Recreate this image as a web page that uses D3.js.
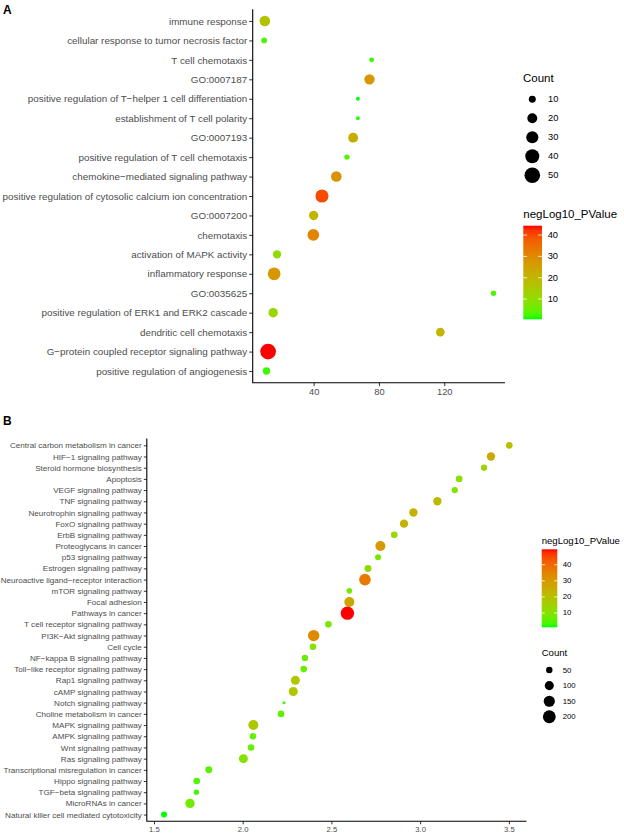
<!DOCTYPE html>
<html><head><meta charset="utf-8">
<script src="https://cdn.jsdelivr.net/npm/d3@7"></script>
<style>body{margin:0;background:#fff}text{font-family:"Liberation Sans",Arial,sans-serif}</style>
</head><body>
<script>
// ---------- Panel A data ----------
const termsA = ["immune response","cellular response to tumor necrosis factor","T cell chemotaxis","GO:0007187",
 "positive regulation of T\u2212helper 1 cell differentiation","establishment of T cell polarity","GO:0007193",
 "positive regulation of T cell chemotaxis","chemokine\u2212mediated signaling pathway",
 "positive regulation of cytosolic calcium ion concentration","GO:0007200","chemotaxis","activation of MAPK activity",
 "inflammatory response","GO:0035625","positive regulation of ERK1 and ERK2 cascade","dendritic cell chemotaxis",
 "G\u2212protein coupled receptor signaling pathway","positive regulation of angiogenesis"];
const xA     = [10.1, 9.7, 75.5, 74.2, 67.1, 67.1, 64.2, 60.4, 53.9, 45.1, 40.0, 39.8, 17.6, 15.8, 150.2, 15.2, 117.6, 12.1, 11.1];
const countA = [23, 7, 5, 22, 3, 3, 20, 6, 23, 35, 18, 28, 14, 33, 6, 18, 15, 50, 11];
const pA     = [17, 3, 2, 27, 0.5, 1, 22, 3, 28, 40, 20, 31, 10, 27, 3, 12, 20, 44.4, 2];
const ticksA = [40, 80, 120];
const countLegendA = [10, 20, 30, 40, 50];
const colorTicksA = [10, 20, 30, 40];

// ---------- Panel B data ----------
const termsB = ["Central carbon metabolism in cancer","HIF\u22121 signaling pathway","Steroid hormone biosynthesis","Apoptosis",
 "VEGF signaling pathway","TNF signaling pathway","Neurotrophin signaling pathway","FoxO signaling pathway","ErbB signaling pathway",
 "Proteoglycans in cancer","p53 signaling pathway","Estrogen signaling pathway","Neuroactive ligand\u2212receptor interaction",
 "mTOR signaling pathway","Focal adhesion","Pathways in cancer","T cell receptor signaling pathway","PI3K\u2212Akt signaling pathway",
 "Cell cycle","NF\u2212kappa B signaling pathway","Toll\u2212like receptor signaling pathway","Rap1 signaling pathway","cAMP signaling pathway",
 "Notch signaling pathway","Choline metabolism in cancer","MAPK signaling pathway","AMPK signaling pathway","Wnt signaling pathway",
 "Ras signaling pathway","Transcriptional misregulation in cancer","Hippo signaling pathway","TGF\u2212beta signaling pathway",
 "MicroRNAs in cancer","Natural killer cell mediated cytotoxicity"];
const xB     = [3.502,3.399,3.360,3.220,3.195,3.097,2.962,2.909,2.854,2.776,2.763,2.706,2.689,2.601,2.601,2.590,2.483,2.400,
                2.396,2.351,2.344,2.297,2.285,2.233,2.216,2.060,2.058,2.047,2.004,1.809,1.741,1.739,1.703,1.557];
const countB = [54,84,48,53,48,84,84,84,53,121,43,59,163,38,121,215,53,155,53,48,53,98,98,11,53,121,53,53,98,59,53,34,105,43];
const pB     = [20,26,14,11,10,22,24,24,13,30,8,12,37,8,27,49.6,8,34,10,6,6,18,18,3,5,18,6,6,10,5,4,3,7,1.1];
const ticksB = [1.5, 2.0, 2.5, 3.0, 3.5];
const countLegendB = [50, 100, 150, 200];
const colorTicksB = [10, 20, 30, 40];

const W = 624, H = 833;
const svg = d3.select("body").append("svg").attr("width", W).attr("height", H);
const AX = "#333", TXT = "#4d4d4d";

function expand(vals){ const e = d3.extent(vals), p = (e[1]-e[0])*0.05; return [e[0]-p, e[1]+p]; }
function colorScale(vals){
  return d3.scaleLinear().domain(d3.extent(vals)).range(["#00ff00","#ff0000"]).interpolate(d3.interpolateLab);
}

function panel(o){
  const g = svg.append("g");
  const y = d3.scalePoint().domain(o.terms).range([o.top, o.bottom]).padding(0.6);
  const x = d3.scaleLinear().domain(expand(o.xs)).range([o.left, o.right]);
  const col = colorScale(o.ps);
  const size = d3.scaleSqrt().domain([0, o.sizeMax]).range([0, o.rMax]);

  // axes
  const ya = d3.axisLeft(y).tickSize(o.tick).tickPadding(2);
  const yg = g.append("g").attr("transform",`translate(${o.left},0)`).call(ya);
  const xa = d3.axisBottom(x).tickValues(o.xticks).tickFormat(o.fmt).tickSize(o.tick).tickPadding(2);
  const xg = g.append("g").attr("transform",`translate(0,${o.bottom})`).call(xa);
  [yg,xg].forEach(a=>{
    a.select(".domain").remove();
    a.selectAll(".tick line").attr("stroke",AX);
    a.selectAll(".tick text").attr("fill",TXT).style("font-family",'"Liberation Sans",Arial,sans-serif');
  });
  yg.selectAll(".tick text").attr("font-size",o.ylabSize);
  xg.selectAll(".tick text").attr("font-size",o.xlabSize);
  g.append("path").attr("d",`M${o.left},${o.top}V${o.bottom}H${o.right}`).attr("fill","none").attr("stroke","#000").attr("stroke-width",1.1);

  // points
  g.selectAll("circle.pt").data(o.terms.map((t,i)=>({t, x:o.xs[i], c:o.counts[i], p:o.ps[i]})))
    .join("circle").attr("class","pt")
    .attr("cx",d=>x(d.x)).attr("cy",d=>y(d.t)).attr("r",d=>size(d.c)).attr("fill",d=>col(d.p));

  // panel letter
  svg.append("text").attr("x",3).attr("y",o.letterY).attr("font-size",12).attr("font-weight","bold").text(o.letter);

  // size legend
  const sl = svg.append("g");
  sl.append("text").attr("x",o.sizeLeg.x).attr("y",o.sizeLeg.titleY).attr("font-size",o.legTitle).attr("dominant-baseline","central").text("Count");
  o.countLegend.forEach((c,i)=>{
    const cy = o.sizeLeg.y0 + i*o.sizeLeg.dy;
    sl.append("circle").attr("cx",o.sizeLeg.cx).attr("cy",cy).attr("r",size(c)).attr("fill","#000");
    sl.append("text").attr("x",o.sizeLeg.lx).attr("y",cy).attr("font-size",o.legText).attr("dominant-baseline","central").text(c);
  });

  // color legend
  const cl = svg.append("g");
  const cb = o.colLeg;
  cl.append("text").attr("x",cb.x).attr("y",cb.titleY).attr("font-size",o.legTitle).attr("dominant-baseline","central").text("negLog10_PValue");
  const gid = "grad"+o.letter;
  const grad = svg.append("defs").append("linearGradient").attr("id",gid).attr("x1",0).attr("y1",1).attr("x2",0).attr("y2",0);
  const dom = col.domain();
  d3.range(0,1.0001,0.05).forEach(t=>grad.append("stop").attr("offset",t).attr("stop-color",col(dom[0]+t*(dom[1]-dom[0]))));
  cl.append("rect").attr("x",cb.x).attr("y",cb.top).attr("width",cb.w).attr("height",cb.bottom-cb.top).attr("fill",`url(#${gid})`);
  const cs = d3.scaleLinear().domain(dom).range([cb.bottom, cb.top]);
  o.colorTicks.forEach(v=>{
    const yy = cs(v);
    cl.append("line").attr("x1",cb.x).attr("x2",cb.x+cb.w*0.2).attr("y1",yy).attr("y2",yy).attr("stroke","#fff").attr("stroke-width",0.8);
    cl.append("line").attr("x1",cb.x+cb.w*0.8).attr("x2",cb.x+cb.w).attr("y1",yy).attr("y2",yy).attr("stroke","#fff").attr("stroke-width",0.8);
    cl.append("text").attr("x",cb.lx).attr("y",yy).attr("font-size",o.legText).attr("dominant-baseline","central").text(v);
  });
}

panel({letter:"A", letterY:14, terms:termsA, xs:xA, counts:countA, ps:pA,
  top:9.3, bottom:382.7, left:252.7, right:505, tick:3.5, ylabSize:9.85, xlabSize:9.3,
  xticks:ticksA, fmt:d3.format("d"), sizeMax:55, rMax:8.2,
  countLegend:countLegendA, colorTicks:colorTicksA, legTitle:11.5, legText:9.3,
  sizeLeg:{x:523, titleY:78, cx:532.3, lx:548, y0:99.3, dy:19},
  colLeg:{x:523.3, titleY:214, top:225.7, bottom:319.3, w:18.7, lx:547.7}});

panel({letter:"B", letterY:424.5, terms:termsB, xs:xB, counts:countB, ps:pB,
  top:438.6, bottom:821.3, left:146.8, right:526.5, tick:3, ylabSize:8.1, xlabSize:7.7,
  xticks:ticksB, fmt:d3.format(".1f"), sizeMax:220, rMax:6.75,
  countLegend:countLegendB, colorTicks:colorTicksB, legTitle:9.6, legText:7.8,
  sizeLeg:{x:541.7, titleY:652.7, cx:549.3, lx:562.7, y0:670, dy:15.6},
  colLeg:{x:541.7, titleY:540, top:549.3, bottom:627.3, w:15.6, lx:562.7}});
</script>
</body></html>
